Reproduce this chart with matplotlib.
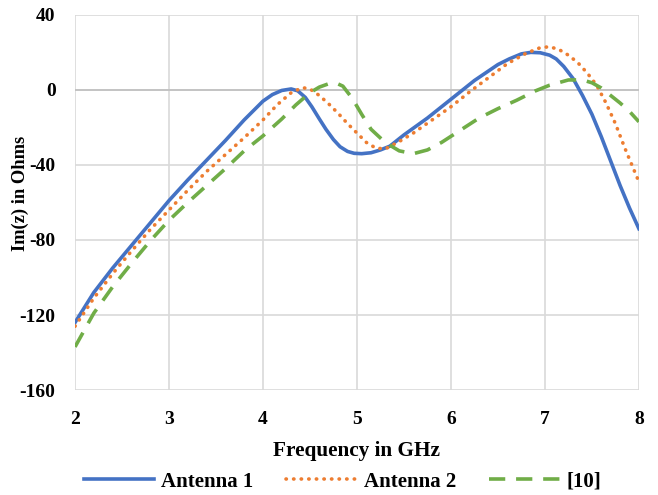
import numpy as np
import matplotlib.pyplot as plt

plt.rcParams['font.family'] = 'Liberation Serif'
plt.rcParams['font.weight'] = 'bold'
plt.rcParams['axes.unicode_minus'] = False

# Antenna 1
freq_a1 = [2.0, 2.2, 2.4, 2.6, 2.8, 3.0, 3.2, 3.4, 3.6, 3.8, 4.0, 4.1, 4.2, 4.3, 4.37, 4.45,
           4.52, 4.6, 4.67, 4.75, 4.82, 4.9, 4.97, 5.05, 5.15, 5.25, 5.35, 5.5, 5.75, 6.0, 6.25,
           6.5, 6.62, 6.75, 6.85, 6.95, 7.05, 7.12, 7.2, 7.3, 7.4, 7.5, 7.6, 7.7, 7.8, 7.9, 8.0]
imz_a1 = [-124, -108, -95, -83, -71, -59, -48, -37.5, -27, -16, -6, -2.5, -0.3, 0.5, -0.5, -4,
          -9, -15.5, -21, -26.5, -30.3, -32.8, -33.8, -34, -33.5, -32, -30, -24, -15, -5, 5,
          13.5, 16.5, 19.2, 20, 19.8, 18.5, 16.5, 12.5, 6, -3, -13, -25, -38, -51, -63, -74]

# Antenna 2
freq_a2 = [2.0, 2.2, 2.4, 2.6, 2.8, 3.0, 3.2, 3.4, 3.6, 3.8, 4.0, 4.15, 4.3, 4.42,
           4.5, 4.6, 4.7, 4.8, 4.9, 5.0, 5.1, 5.2, 5.3, 5.45, 5.6, 5.8, 6.0,
           6.2, 6.4, 6.6, 6.8, 6.95, 7.05, 7.15, 7.25, 7.35, 7.45, 7.55, 7.65,
           7.75, 7.85, 7.95, 8.0]
imz_a2 = [-126, -111, -98, -86, -74.5, -64, -53.5, -43.5, -34.5, -25.5, -16, -8, -1.5, 1.2,
          0.5, -3, -7.5, -12.5, -18, -23, -28, -31, -31.5, -27.5, -23, -16, -9,
          -1, 6.5, 14, 19.5, 22.5, 23, 21.5, 18.5, 14.5, 9, 2.5, -7,
          -18, -31, -43, -49]

# [10]
freq_ref = [2.0, 2.2, 2.4, 2.6, 2.8, 3.0, 3.2, 3.4, 3.6, 3.8, 4.0, 4.2, 4.35, 4.5,
            4.6, 4.7, 4.78, 4.85, 4.95, 5.05, 5.15, 5.3, 5.45, 5.6, 5.75, 5.9,
            6.1, 6.3, 6.5, 6.7, 6.9, 7.05, 7.25, 7.4, 7.5, 7.6, 7.7, 7.8, 7.9, 8.0]
imz_ref = [-137, -119, -105, -92.5, -80.5, -69.5, -60, -51, -42, -32.5, -24.5, -15.5, -8, -1.5,
           1.5, 3.3, 3.6, 2, -4.5, -13, -21, -28, -32.5, -34, -32, -28,
           -21.5, -15, -10, -5.5, -0.5, 2.5, 5.3, 5.3, 3.8, 1, -3, -7, -11.5, -17]

fig = plt.figure(figsize=(6.58, 4.95), dpi=100)
ax = fig.add_axes([0.114, 0.212, 0.857, 0.758])

ax.plot(freq_a1, imz_a1, color='#4472C4', lw=2.6, label='Antenna 1')
ax.plot(freq_a2, imz_a2, color='#ED7D31', lw=2.6, linestyle=(0, (0.1, 2.0)),
        dash_capstyle='round', label='Antenna 2')
ax.plot(freq_ref, imz_ref, color='#70AD47', lw=2.6, linestyle=(0, (4.5, 3.0)),
        label='[10]')

ax.set_xlim(2, 8)
ax.set_ylim(-160, 40)
ax.set_xticks(np.arange(2, 9, 1))
ax.set_yticks(np.arange(-160, 41, 40))
ax.grid(True, color='#D9D9D9', lw=1.2)
ax.set_axisbelow(True)
ax.axhline(0, color='#BFBFBF', lw=1.2, zorder=1)
for s in ax.spines.values():
    s.set_visible(False)
ax.tick_params(length=0, labelsize=14)
ax.tick_params(axis='x', pad=15)
ax.tick_params(axis='y', pad=14)
for lab in ax.get_xticklabels() + ax.get_yticklabels():
    lab.set_fontweight('bold')

ax.set_xlabel('Frequency in GHz', fontsize=15.3, fontweight='bold')
ax.xaxis.set_label_coords(0.5, -0.163)
ax.xaxis.label.set_va('center')
ax.set_ylabel('Im(z) in Ohms', fontsize=13.3, fontweight='bold')
ax.yaxis.set_label_coords(-0.0975, 0.523)
ax.yaxis.label.set_va('center')

leg = fig.legend(loc='center', bbox_to_anchor=(0.5205, 0.027), ncol=3,
                 frameon=False, handlelength=3.37, handletextpad=0.34,
                 columnspacing=1.6, prop={'weight': 'bold', 'size': 15})

fig.savefig('out.png', dpi=100)
